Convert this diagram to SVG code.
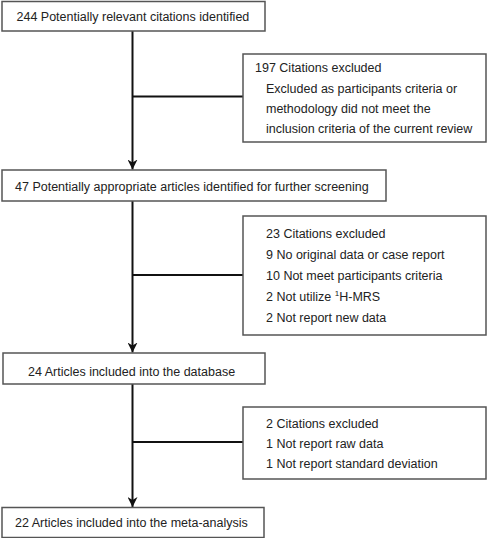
<svg xmlns="http://www.w3.org/2000/svg" width="487" height="538" viewBox="0 0 487 538">
<style>
.box{fill:#fff;stroke:#555;stroke-width:1.5}
.t{font-family:"Liberation Sans",Arial,sans-serif;font-size:12.5px;fill:#222}
.c{stroke:#111;stroke-width:2;fill:none}
</style>
<defs>
<marker id="ah" viewBox="0 0 10 10" refX="10" refY="5" markerWidth="5" markerHeight="5" orient="auto" markerUnits="strokeWidth">
<path d="M0,0 L10,5 L0,10 L3,5 Z" fill="#111"/>
</marker>
</defs>
<g id="connectors">
<line class="c" x1="132.5" y1="31" x2="132.5" y2="169.5" marker-end="url(#ah)"/>
<line class="c" x1="132.5" y1="96.5" x2="243" y2="96.5"/>
<line class="c" x1="132.5" y1="201" x2="132.5" y2="352.5" marker-end="url(#ah)"/>
<line class="c" x1="132.5" y1="275" x2="243" y2="275"/>
<line class="c" x1="132.5" y1="384" x2="132.5" y2="507" marker-end="url(#ah)"/>
<line class="c" x1="132.5" y1="442" x2="243" y2="442"/>
</g>
<g id="n1">
<rect class="box" x="2" y="1.5" width="263" height="29.5"/>
<text class="t" x="16.5" y="20.5">244 Potentially relevant citations identified</text>
</g>
<g id="n2">
<rect class="box" x="243" y="54" width="243" height="88"/>
<text class="t" x="255" y="71.5">197 Citations excluded</text>
<text class="t" x="266" y="92.5">Excluded as participants criteria or</text>
<text class="t" x="266" y="112.5">methodology did not meet the</text>
<text class="t" x="266" y="132.5">inclusion criteria of the current review</text>
</g>
<g id="n3">
<rect class="box" x="2" y="170" width="384" height="31"/>
<text class="t" x="15" y="190.5">47 Potentially appropriate articles identified for further screening</text>
</g>
<g id="n4">
<rect class="box" x="243" y="216" width="243" height="119"/>
<text class="t" x="266" y="237.5">23 Citations excluded</text>
<text class="t" x="266" y="258.5">9 No original data or case report</text>
<text class="t" x="266" y="279.5">10 Not meet participants criteria</text>
<text class="t" x="266" y="300.5">2 Not utilize <tspan font-size="8" dy="-5">1</tspan><tspan dy="5">H-MRS</tspan></text>
<text class="t" x="266" y="321.5">2 Not report new data</text>
</g>
<g id="n5">
<rect class="box" x="3" y="353" width="262" height="31"/>
<text class="t" x="28" y="375.5">24 Articles included into the database</text>
</g>
<g id="n6">
<rect class="box" x="243" y="407" width="243" height="72"/>
<text class="t" x="266" y="427.5">2 Citations excluded</text>
<text class="t" x="266" y="447.5">1 Not report raw data</text>
<text class="t" x="266" y="467.5">1 Not report standard deviation</text>
</g>
<g id="n7">
<rect class="box" x="2" y="507.5" width="262" height="30"/>
<text class="t" x="15" y="526.5">22 Articles included into the meta-analysis</text>
</g>
</svg>
